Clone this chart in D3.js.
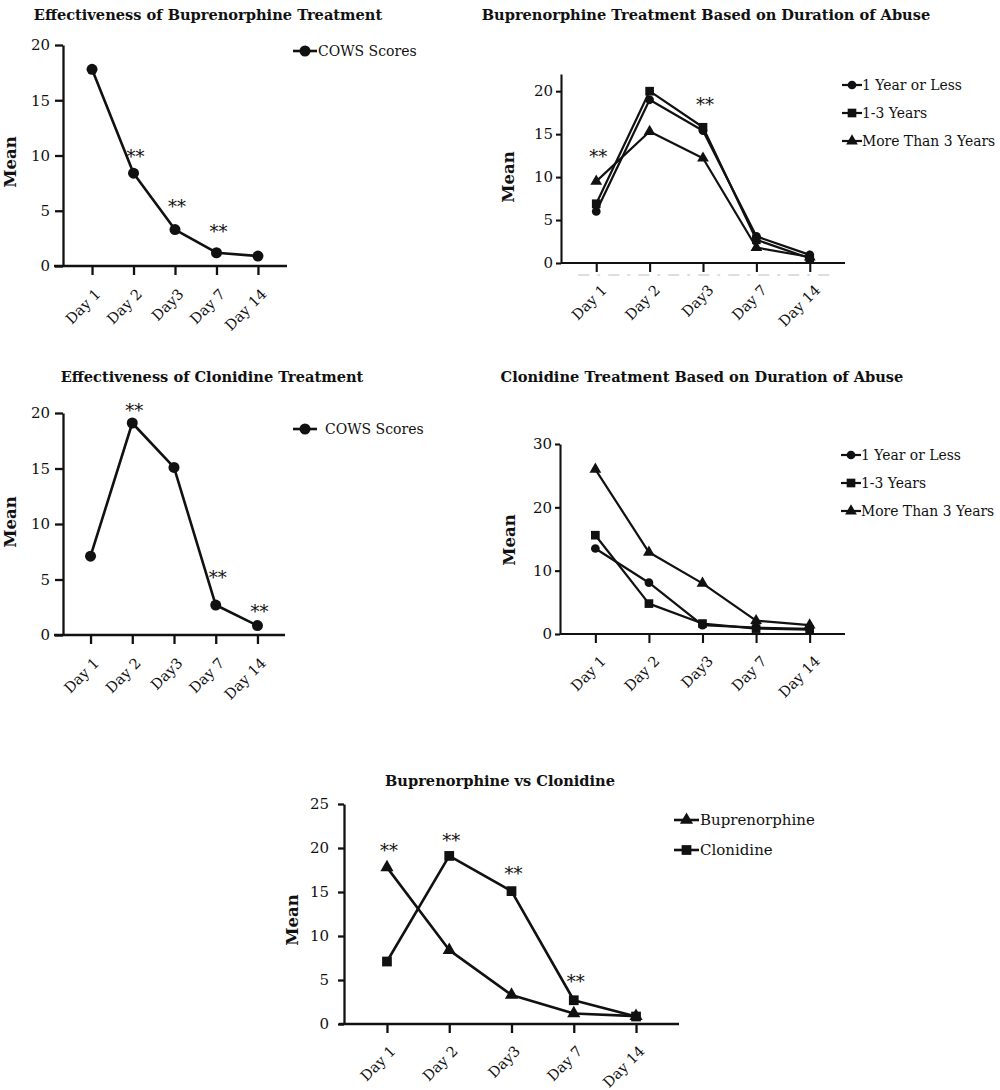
<!DOCTYPE html>
<html>
<head>
<meta charset="utf-8">
<script src="https://cdn.jsdelivr.net/npm/d3@7"></script>
<style>
  body { margin: 0; background: #fff; }
  text { font-family: "DejaVu Serif", serif; fill: #111; }
</style>
</head>
<body>
<script>
const days = ['Day 1', 'Day 2', 'Day3', 'Day 7', 'Day 14']

// mean COWS scores
const bupCows = [17.8, 8.4, 3.3, 1.2, 0.9]
const cloCows = [7.1, 19.1, 15.1, 2.7, 0.85]

const groups = ['1 Year or Less', '1-3 Years', 'More Than 3 Years']
const bupLess1 = [6.0, 19.0, 15.4, 3.1, 0.95]
const bup1to3 = [6.9, 20.0, 15.8, 2.7, 0.55]
const bupMore3 = [9.5, 15.3, 12.2, 1.8, 0.7]
const cloLess1 = [13.5, 8.1, 1.4, 1.0, 0.8]
const clo1to3 = [15.6, 4.8, 1.65, 0.85, 0.7]
const cloMore3 = [26.0, 12.9, 8.0, 2.1, 1.4]

// "**" marks: day and the height (in score units) where they sit
const bupCowsStars = [['Day 2', 10.3], ['Day3', 5.8], ['Day 7', 3.5]]
const bupGroupStars = [['Day 1', 12.9], ['Day3', 19.0]]
const cloCowsStars = [['Day 2', 20.6], ['Day 7', 5.6], ['Day 14', 2.5]]
const cloGroupStars = []
const vsStars = [['Day 1', 20.2], ['Day 2', 21.4], ['Day3', 17.6], ['Day 7', 5.3]]

const svg = d3.select('body').append('svg')
    .attr('width', 1000)
    .attr('height', 1090)

const shapes = {
    circle: d3.symbolCircle,
    square: d3.symbolSquare,
    triangle: d3.symbolTriangle
}

let drawPanel = (p) => {
    const g = svg.append('g')

    const x = d3.scalePoint().domain(days).range([p.left, p.right]).padding(p.pad)
    const y = d3.scaleLinear().domain([0, p.max]).range([p.bottom, p.top])

    // y axis
    const yAxis = d3.axisLeft(y)
        .tickValues(d3.range(0, p.tickMax + 0.01, p.tickStep))
        .tickSize(p.yTick)
        .tickSizeOuter(0)
        .tickPadding(p.yPad)
    const ya = g.append('g')
        .attr('transform', `translate(${p.left},0)`)
        .call(yAxis)
    ya.select('.domain').attr('stroke-width', p.axisW).attr('stroke', '#111')
    ya.selectAll('.tick line').attr('stroke-width', p.axisW).attr('stroke', '#111')
    ya.selectAll('.tick text')
        .attr('font-family', 'DejaVu Serif')
        .attr('font-size', 15)
        .attr('fill', '#111')

    // x axis
    const xAxis = d3.axisBottom(x).tickSize(p.xTick).tickSizeOuter(0)
    const xa = g.append('g')
        .attr('transform', `translate(0,${p.bottom})`)
        .call(xAxis)
    xa.select('.domain').remove()
    xa.selectAll('.tick line').attr('stroke-width', p.axisW).attr('stroke', '#111')
    xa.selectAll('.tick text')
        .attr('font-family', 'DejaVu Serif')
        .attr('font-size', 14.5)
        .attr('fill', '#111')
        .attr('text-anchor', 'end')
        .attr('x', 0)
        .attr('y', 0)
        .attr('dy', 0)
        .attr('transform', `translate(${p.labDx},${p.labDy}) rotate(-45)`)
    g.append('line')
        .attr('x1', p.left - p.xExt)
        .attr('x2', p.right)
        .attr('y1', p.bottom)
        .attr('y2', p.bottom)
        .attr('stroke', '#111')
        .attr('stroke-width', p.axisW)

    if (p.ghost) {
        // faint dashes left under the axis in the scan
        g.append('line')
            .attr('x1', x(days[0]) - 18)
            .attr('x2', x(days[4]) + 22)
            .attr('y1', p.bottom + 12)
            .attr('y2', p.bottom + 12)
            .attr('stroke', '#d4d4d4')
            .attr('stroke-width', 1.5)
            .attr('stroke-dasharray', '11,8,3,8')
    }

    // title and y label
    g.append('text')
        .attr('x', p.titleX)
        .attr('y', p.titleY)
        .attr('text-anchor', 'middle')
        .attr('font-weight', 'bold')
        .attr('font-size', 14.6)
        .text(p.title)

    g.append('text')
        .attr('transform', `translate(${p.meanX},${p.meanY}) rotate(-90)`)
        .attr('text-anchor', 'middle')
        .attr('dominant-baseline', 'central')
        .attr('font-weight', 'bold')
        .attr('font-size', 16.5)
        .text('Mean')

    const line = d3.line()
        .x(d => x(d.day))
        .y(d => y(d.v))

    p.series.forEach((s, k) => {
        const pts = s.values.map((v, i) => ({ day: days[i], v: v }))
        g.append('path')
            .datum(pts)
            .attr('d', line)
            .attr('fill', 'none')
            .attr('stroke', '#111')
            .attr('stroke-width', p.lineW)
            .attr('stroke-linejoin', 'round')

        g.selectAll('.m' + k)
            .data(pts)
            .enter()
            .append('path')
            .attr('d', d3.symbol().type(shapes[s.shape]).size(p.markSize[s.shape]))
            .attr('transform', d => `translate(${x(d.day)},${y(d.v)})`)
            .attr('fill', '#111')

        // legend row
        const ly = p.legY + k * p.legGap
        g.append('line')
            .attr('x1', p.legX)
            .attr('x2', p.legX + p.legLine)
            .attr('y1', ly)
            .attr('y2', ly)
            .attr('stroke', '#111')
            .attr('stroke-width', p.lineW)
        g.append('path')
            .attr('d', d3.symbol().type(shapes[s.shape]).size(p.markSize[s.shape]))
            .attr('transform', `translate(${p.legX + p.legLine / 2},${ly})`)
            .attr('fill', '#111')
        g.append('text')
            .attr('x', p.legX + p.legLine + p.legText)
            .attr('y', ly)
            .attr('dominant-baseline', 'central')
            .attr('font-size', p.legFont)
            .text(s.name)
    })

    g.selectAll('.star')
        .data(p.stars)
        .enter()
        .append('text')
        .attr('x', d => x(d[0]) + 2)
        .attr('y', d => y(d[1]) + 11)
        .attr('text-anchor', 'middle')
        .attr('font-size', 18)
        .text('**')
}

drawPanel({
    left: 63, right: 287, top: 45, bottom: 266, max: 20, tickMax: 20, tickStep: 5, pad: 0.7,
    xExt: 9, yTick: 8, yPad: 5, xTick: 9, axisW: 2.3, labDx: 9, labDy: 29,
    title: 'Effectiveness of Buprenorphine Treatment', titleX: 208, titleY: 20,
    meanX: 10, meanY: 162,
    series: [{ name: 'COWS Scores', values: bupCows, shape: 'circle' }],
    markSize: { circle: 95 }, lineW: 2.6,
    legX: 293, legY: 51, legGap: 27, legLine: 24, legText: 1, legFont: 14,
    stars: bupCowsStars
})

drawPanel({
    left: 561, right: 845, top: 74, bottom: 263, max: 22, tickMax: 20, tickStep: 5, pad: 0.66,
    xExt: 0, yTick: 5, yPad: 3, xTick: 9, axisW: 2.1, labDx: 11, labDy: 28,
    title: 'Buprenorphine Treatment Based on Duration of Abuse', titleX: 706, titleY: 20,
    meanX: 508, meanY: 177, ghost: true,
    series: [
        { name: groups[0], values: bupLess1, shape: 'circle' },
        { name: groups[1], values: bup1to3, shape: 'square' },
        { name: groups[2], values: bupMore3, shape: 'triangle' }
    ],
    markSize: { circle: 60, square: 75, triangle: 60 }, lineW: 2.2,
    legX: 842, legY: 85, legGap: 28, legLine: 20, legText: 0, legFont: 13.9,
    stars: bupGroupStars
})

drawPanel({
    left: 63, right: 285, top: 413, bottom: 635, max: 20, tickMax: 20, tickStep: 5, pad: 0.66,
    xExt: 9, yTick: 8, yPad: 5, xTick: 9, axisW: 2.3, labDx: 9, labDy: 29,
    title: 'Effectiveness of Clonidine Treatment', titleX: 212, titleY: 382,
    meanX: 10, meanY: 522,
    series: [{ name: 'COWS Scores', values: cloCows, shape: 'circle' }],
    markSize: { circle: 95 }, lineW: 2.6,
    legX: 293, legY: 429, legGap: 27, legLine: 24, legText: 8, legFont: 14,
    stars: cloCowsStars
})

drawPanel({
    left: 560, right: 845, top: 444, bottom: 634, max: 30, tickMax: 30, tickStep: 10, pad: 0.66,
    xExt: 0, yTick: 5, yPad: 3, xTick: 9, axisW: 2.1, labDx: 11, labDy: 28,
    title: 'Clonidine Treatment Based on Duration of Abuse', titleX: 702, titleY: 382,
    meanX: 509, meanY: 540,
    series: [
        { name: groups[0], values: cloLess1, shape: 'circle' },
        { name: groups[1], values: clo1to3, shape: 'square' },
        { name: groups[2], values: cloMore3, shape: 'triangle' }
    ],
    markSize: { circle: 60, square: 75, triangle: 60 }, lineW: 2.2,
    legX: 841, legY: 455, legGap: 28, legLine: 20, legText: 0, legFont: 13.9,
    stars: cloGroupStars
})

drawPanel({
    left: 344, right: 679, top: 804, bottom: 1024, max: 25, tickMax: 25, tickStep: 5, pad: 0.69,
    xExt: 5, yTick: 6, yPad: 9, xTick: 9, axisW: 2.3, labDx: 9, labDy: 28,
    title: 'Buprenorphine vs Clonidine', titleX: 500, titleY: 786,
    meanX: 292, meanY: 920,
    series: [
        { name: 'Buprenorphine', values: bupCows, shape: 'triangle' },
        { name: 'Clonidine', values: cloCows, shape: 'square' }
    ],
    markSize: { triangle: 75, square: 95 }, lineW: 2.6,
    legX: 674, legY: 820, legGap: 30, legLine: 25, legText: 1, legFont: 15,
    stars: vsStars
})
</script>
</body>
</html>
